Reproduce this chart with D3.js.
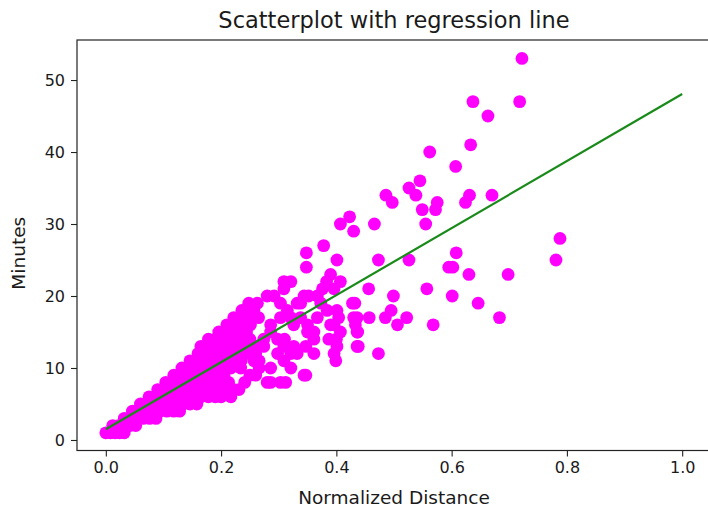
<!DOCTYPE html>
<html>
<head>
<meta charset="utf-8">
<script src="https://cdn.jsdelivr.net/npm/d3@7"></script>
<style>
  html, body { margin: 0; padding: 0; background: #fff; }
  svg { display: block; }
  text { font-family: "DejaVu Sans", sans-serif; fill: #1a1a1a; }
</style>
</head>
<body>
<svg id="chart" width="708" height="511"></svg>
<script>
// ---- data ----
const title = "Scatterplot with regression line";
const xLabel = "Normalized Distance";
const yLabel = "Minutes";
const xTicks = [0.0, 0.2, 0.4, 0.6, 0.8, 1.0];
const yTicks = [0, 10, 20, 30, 40, 50];

// minutes level (integer) and the normalized distances observed at that level
const levelMinutes = [1,2,3,4,5,6,7,8,9,10,11,12,13,14,15,16,17,18,19,20,21,22,23,24,25,26,27,28,29,30,31,32,33,34,35,36,38,40,41,45,47,53];
const levelDistances = [
  [0.0, 0.008, 0.016, 0.024, 0.032],
  [0.012, 0.022, 0.032, 0.042, 0.052],
  [0.032, 0.043, 0.054, 0.065, 0.076, 0.087],
  [0.046, 0.058, 0.07, 0.082, 0.094, 0.106, 0.118, 0.128],
  [0.06, 0.072, 0.085, 0.098, 0.11, 0.122, 0.134, 0.146, 0.158],
  [0.075, 0.088, 0.1, 0.113, 0.126, 0.14, 0.152, 0.165, 0.178, 0.19, 0.2, 0.217],
  [0.09, 0.103, 0.116, 0.13, 0.143, 0.156, 0.17, 0.184, 0.197, 0.208, 0.222, 0.231],
  [0.104, 0.117, 0.13, 0.143, 0.156, 0.17, 0.185, 0.2, 0.213, 0.241, 0.28, 0.286, 0.303, 0.312],
  [0.118, 0.13, 0.143, 0.156, 0.17, 0.183, 0.196, 0.205, 0.25, 0.26, 0.344, 0.347],
  [0.132, 0.145, 0.158, 0.17, 0.183, 0.196, 0.21, 0.217, 0.234, 0.266, 0.286, 0.321],
  [0.146, 0.158, 0.17, 0.183, 0.196, 0.21, 0.222, 0.235, 0.257, 0.266, 0.309, 0.399],
  [0.16, 0.172, 0.185, 0.198, 0.21, 0.222, 0.235, 0.248, 0.26, 0.298, 0.321, 0.332, 0.361, 0.396, 0.473],
  [0.165, 0.176, 0.188, 0.2, 0.212, 0.224, 0.236, 0.248, 0.26, 0.274, 0.309, 0.326, 0.347, 0.401, 0.436, 0.438],
  [0.178, 0.19, 0.202, 0.214, 0.226, 0.238, 0.25, 0.274, 0.298, 0.31, 0.361, 0.387, 0.4],
  [0.196, 0.208, 0.22, 0.232, 0.244, 0.286, 0.35, 0.361, 0.407, 0.436, 0.437],
  [0.21, 0.222, 0.234, 0.251, 0.286, 0.326, 0.35, 0.39, 0.396, 0.433, 0.506, 0.568],
  [0.222, 0.234, 0.251, 0.265, 0.303, 0.321, 0.338, 0.367, 0.404, 0.43, 0.436, 0.457, 0.485, 0.522, 0.683],
  [0.236, 0.243, 0.257, 0.315, 0.384, 0.401, 0.495],
  [0.248, 0.263, 0.303, 0.332, 0.338, 0.373, 0.428, 0.432, 0.646],
  [0.28, 0.292, 0.344, 0.352, 0.367, 0.499, 0.601],
  [0.309, 0.376, 0.396, 0.456, 0.557],
  [0.309, 0.321, 0.383, 0.407],
  [0.39, 0.63, 0.698],
  [0.348, 0.595, 0.602],
  [0.401, 0.473, 0.526, 0.781],
  [0.348, 0.608],
  [0.378],
  [0.788],
  [0.43],
  [0.407, 0.466, 0.555],
  [0.423],
  [0.549, 0.572],
  [0.497, 0.575, 0.624],
  [0.486, 0.538, 0.631, 0.670],
  [0.526],
  [0.545],
  [0.607],
  [0.562],
  [0.633],
  [0.663],
  [0.637, 0.718],
  [0.722]
];

// regression line end points
const lineDistance = [0, 1];
const lineMinutes = [1.5, 48.05];

// ---- layout ----
const W = 708, H = 511;
const axLeft = 77, axRight = 711, axTop = 40, axBottom = 450.5;
const xDomain = [-0.05, 1.05];
const yDomain = [-1.46, 55.56];

const svg = d3.select("#chart");

const x = d3.scaleLinear().domain(xDomain).range([axLeft, axRight]);
const y = d3.scaleLinear().domain(yDomain).range([axBottom, axTop]);

const points = [];
levelMinutes.forEach((m, i) => {
  levelDistances[i].forEach(d => points.push({ d, m }));
});

// scatter points
svg.append("g")
  .selectAll("circle")
  .data(points)
  .enter().append("circle")
  .attr("cx", p => x(p.d))
  .attr("cy", p => y(p.m))
  .attr("r", 6.4)
  .attr("fill", "#ff00ff");

// regression line
const lineData = lineDistance.map((d, i) => ({ d, m: lineMinutes[i] }));
svg.append("path")
  .datum(lineData)
  .attr("fill", "none")
  .attr("stroke", "#1a8a1a")
  .attr("stroke-width", 2.2)
  .attr("d", d3.line().x(p => x(p.d)).y(p => y(p.m)));

// axes
const xAxis = svg.append("g")
  .attr("transform", `translate(0,${axBottom})`)
  .call(d3.axisBottom(x).tickValues(xTicks).tickFormat(d3.format(".1f")).tickSize(6).tickPadding(5));
const yAxis = svg.append("g")
  .attr("transform", `translate(${axLeft},0)`)
  .call(d3.axisLeft(y).tickValues(yTicks).tickFormat(d3.format("d")).tickSize(6).tickPadding(6));

[xAxis, yAxis].forEach(g => {
  g.select(".domain").remove();
  g.selectAll(".tick line").attr("stroke", "#222").attr("stroke-width", 1.1);
  g.selectAll(".tick text")
    .attr("fill", "#1a1a1a")
    .style("font-family", "'DejaVu Sans', sans-serif")
    .style("font-size", "16px");
});

// spines
svg.append("rect")
  .attr("x", axLeft).attr("y", axTop)
  .attr("width", axRight - axLeft).attr("height", axBottom - axTop)
  .attr("fill", "none").attr("stroke", "#222").attr("stroke-width", 1.2);

// title
svg.append("text")
  .attr("x", (axLeft + axRight) / 2)
  .attr("y", 28)
  .attr("text-anchor", "middle")
  .style("font-size", "22.5px")
  .text(title);

// x label
svg.append("text")
  .attr("x", (axLeft + axRight) / 2)
  .attr("y", 504)
  .attr("text-anchor", "middle")
  .style("font-size", "18.5px")
  .text(xLabel);

// y label
svg.append("text")
  .attr("transform", `translate(25,${(axTop + axBottom) / 2 + 8}) rotate(-90)`)
  .attr("text-anchor", "middle")
  .style("font-size", "18.5px")
  .text(yLabel);
</script>
</body>
</html>
